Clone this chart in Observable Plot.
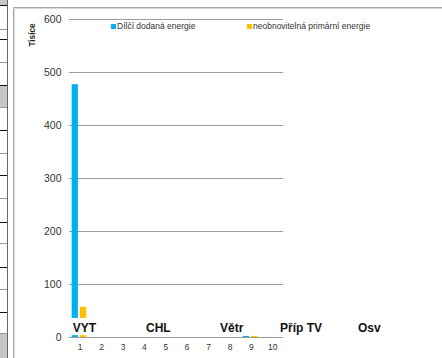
<!DOCTYPE html>
<html>
<head>
<meta charset="utf-8">
<script src="https://cdn.jsdelivr.net/npm/d3@7"></script>
<script src="https://cdn.jsdelivr.net/npm/@observablehq/plot@0.6"></script>
<style>
  html, body { margin: 0; padding: 0; background: #fff; }
  #wrap { position: relative; width: 442px; height: 358px; overflow: hidden; font-family: "Liberation Sans", Arial, sans-serif; }
  #wrap svg { position: absolute; left: 0; top: 0; }
  .cellline { position: absolute; left: 0; width: 7px; height: 1px; }
  .legend { position: absolute; top: 20px; font-size: 8.5px; color: #333; white-space: nowrap; line-height: 12px; }
  .legend span.sw { display: inline-block; width: 5px; height: 5px; margin-right: 1px; vertical-align: 0px; }
  #ylabel { position: absolute; left: 33px; top: 34.5px; font-size: 8.2px; font-weight: bold; color: #222; transform: translate(-50%, -50%) rotate(-90deg); white-space: nowrap; line-height: 10px; }
</style>
</head>
<body>
<div id="wrap"></div>
<script>
// ---- data ----
const categories = [1, 2, 3, 4, 5, 6, 7, 8, 9, 10];
const delivered = [477, 0, 0, 0, 0, 0, 0, 0, 2, 0];      // Dílčí dodaná energie
const primary   = [57, 0, 0, 0, 0, 0, 0, 0, 2, 0];       // neobnovitelná primární energie
const yTicks = [0, 100, 200, 300, 400, 500, 600];
const groupLabels = ["VYT", "CHL", "Větr", "Příp TV", "Osv"];
const seriesNames = ["Dílčí dodaná energie", "neobnovitelná primární energie"];
const colors = ["#00b0f0", "#ffc000"];

const wrap = document.getElementById("wrap");

// spreadsheet strip on the left (decoration)
const cellYs = [5, 29, 39, 62, 85, 107, 130, 153, 175, 198, 222, 243, 267, 289, 312, 333];
[[0, 5], [85, 22], [333, 25]].forEach(([t, h]) => {
  const d = document.createElement("div");
  d.style.cssText = `position:absolute;left:0;top:${t}px;width:7px;height:${h}px;background:#c6c6c6`;
  wrap.appendChild(d);
});
cellYs.forEach((y, i) => {
  const d = document.createElement("div");
  d.className = "cellline";
  d.style.top = y + "px";
  d.style.background = i % 2 ? "#9a9a9a" : "#111";
  wrap.appendChild(d);
});
const vline = document.createElement("div");
vline.style.cssText = "position:absolute;left:7px;top:0;width:1px;height:358px;background:#666";
wrap.appendChild(vline);
// chart border
const bl = document.createElement("div");
bl.style.cssText = "position:absolute;left:13px;top:7px;width:1px;height:351px;background:#a8a8a8;box-shadow:1px 0 0 #ddd";
wrap.appendChild(bl);
const bt = document.createElement("div");
bt.style.cssText = "position:absolute;left:13px;top:7px;width:429px;height:1px;background:#a8a8a8;box-shadow:0 1px 0 #d8d8d8";
wrap.appendChild(bt);

// bars table
const bars = [];
categories.forEach((c, i) => {
  bars.push({cat: c, series: 0, value: delivered[i]});
  bars.push({cat: c, series: 1, value: primary[i]});
});
const groupAt = [1.2, 4.65, 8.08, 11.32, 14.51];

const chart = Plot.plot({
  width: 442,
  height: 358,
  marginLeft: 69,
  marginRight: 159,
  marginTop: 19,
  marginBottom: 21,
  style: {background: "transparent", fontFamily: "Liberation Sans, Arial, sans-serif"},
  x: {type: "linear", domain: [0.5, 10.5], axis: null},
  y: {type: "linear", domain: [0, 600], axis: null},
  marks: [
    Plot.ruleY(yTicks, {stroke: "#9b9b9b", strokeWidth: 1}),
    Plot.rectY(bars, {
      x1: d => d.cat + (d.series === 0 ? -0.375 : 0.0),
      x2: d => d.cat + (d.series === 0 ? -0.085 : 0.305),
      y1: 0,
      y2: "value",
      fill: d => colors[d.series]
    }),
    Plot.ruleY([0], {stroke: "#9b9b9b", strokeWidth: 1}),
    Plot.text(yTicks, {y: d => d, text: d => String(d), frameAnchor: "left", textAnchor: "end", dx: -8, fontSize: 10.5, fill: "#333"}),
    Plot.text(categories, {x: d => d, text: d => String(d), frameAnchor: "bottom", dy: 12.5, fontSize: 8.5, fill: "#333"}),
    Plot.rect(groupLabels, {x1: (d, i) => groupAt[i] - 0.6, x2: (d, i) => groupAt[i] + 0.6, y1: 3.5, y2: 36, fill: "white"}),
    Plot.text(groupLabels, {x: (d, i) => groupAt[i], y: 0, dy: -9, text: d => d, fontSize: 12, fontWeight: "bold", fill: "#111"})
  ]
});
wrap.appendChild(chart);

// legend
const legPos = [111, 247];
seriesNames.forEach((name, i) => {
  const l = document.createElement("div");
  l.className = "legend";
  l.style.left = legPos[i] + "px";
  l.innerHTML = `<span class="sw" style="background:${colors[i]}"></span>${name}`;
  wrap.appendChild(l);
});
const yl = document.createElement("div");
yl.id = "ylabel";
yl.textContent = "Tisíce";
wrap.appendChild(yl);
</script>
</body>
</html>
